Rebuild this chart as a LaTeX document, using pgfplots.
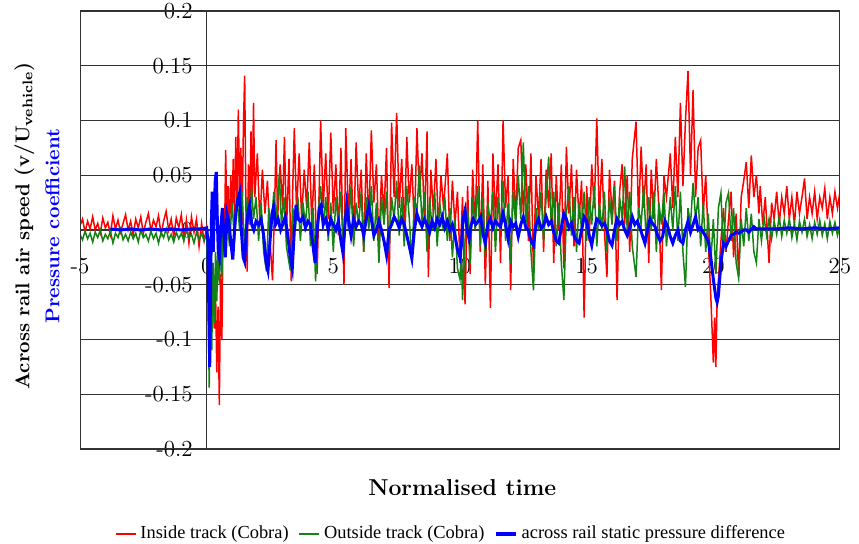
\documentclass[border=0pt]{standalone}
\usepackage{fontspec}
\usepackage{pgfplots}
\usepackage{pgfplotstable}
\pgfplotsset{compat=1.18}
\newfontfamily\legfont{Liberation Serif}
\definecolor{cred}{RGB}{255,0,0}
\definecolor{cgreen}{RGB}{20,130,20}
\definecolor{cblue}{RGB}{0,0,255}

\pgfplotstableread[row sep=\\]{
x y\\
-5.0 0.004\\ -4.9 0.010\\ -4.8 -0.002\\ -4.7 0.008\\ -4.6 0.001\\ -4.5 0.012\\ -4.4 0.000\\ -4.3 0.006\\ -4.2 -0.003\\ -4.1 0.011\\
-4.0 0.002\\ -3.9 0.007\\ -3.8 -0.004\\ -3.7 0.013\\ -3.6 0.001\\ -3.5 0.009\\ -3.4 -0.002\\ -3.3 0.006\\ -3.2 0.014\\ -3.1 0.000\\
-3.0 0.008\\ -2.9 -0.005\\ -2.8 0.010\\ -2.7 0.002\\ -2.6 0.012\\ -2.5 -0.003\\ -2.4 0.007\\ -2.3 0.015\\ -2.2 -0.001\\ -2.1 0.009\\
-2.0 0.003\\ -1.9 0.013\\ -1.8 -0.004\\ -1.7 0.008\\ -1.6 0.017\\ -1.5 0.000\\ -1.4 0.010\\ -1.3 -0.006\\ -1.2 0.011\\ -1.1 0.002\\
-1.0 0.014\\ -0.9 -0.008\\ -0.8 0.009\\ -0.7 -0.012\\ -0.6 0.012\\ -0.5 -0.002\\ -0.4 0.010\\ -0.3 -0.015\\ -0.2 0.006\\ -0.1 -0.010\\
0.00 0.002\\ 0.05 -0.020\\ 0.10 -0.060\\ 0.15 -0.020\\ 0.20 -0.075\\ 0.25 -0.030\\ 0.30 -0.090\\ 0.35 -0.055\\ 0.40 -0.130\\ 0.45 -0.070\\
0.50 -0.160\\ 0.55 -0.040\\ 0.60 -0.100\\ 0.65 0.010\\ 0.70 -0.020\\ 0.75 0.073\\ 0.80 0.005\\ 0.85 0.040\\ 0.90 -0.010\\ 0.95 0.050\\
1.00 0.015\\ 1.05 0.065\\ 1.10 0.010\\ 1.15 0.085\\ 1.20 0.020\\ 1.25 0.110\\ 1.30 0.030\\ 1.35 0.075\\ 1.40 0.005\\ 1.45 0.095\\
1.50 0.141\\ 1.55 0.020\\ 1.60 -0.038\\ 1.65 0.060\\ 1.70 0.010\\ 1.75 0.090\\ 1.80 0.025\\ 1.85 0.116\\ 1.90 0.030\\ 2.00 0.070\\
2.10 0.005\\ 2.20 0.055\\ 2.30 0.015\\ 2.40 0.045\\ 2.50 -0.010\\ 2.60 -0.046\\ 2.70 0.040\\ 2.74 0.082\\ 2.80 0.010\\ 2.90 0.060\\
3.00 0.020\\ 3.07 0.085\\ 3.15 0.000\\ 3.25 0.065\\ 3.34 -0.047\\ 3.40 0.040\\ 3.46 0.093\\ 3.55 0.015\\ 3.65 0.070\\ 3.75 0.010\\
3.85 0.055\\ 3.95 0.020\\ 4.05 0.080\\ 4.15 0.005\\ 4.25 0.060\\ 4.36 -0.040\\ 4.45 0.045\\ 4.50 0.100\\ 4.60 0.020\\ 4.70 0.070\\
4.80 0.010\\ 4.90 0.089\\ 5.00 0.015\\ 5.10 0.060\\ 5.20 -0.005\\ 5.30 0.075\\ 5.42 -0.050\\ 5.49 0.093\\ 5.60 0.010\\ 5.70 0.065\\
5.80 -0.010\\ 5.90 0.080\\ 6.00 0.020\\ 6.10 0.055\\ 6.20 -0.020\\ 6.30 0.070\\ 6.40 0.005\\ 6.50 0.091\\ 6.60 0.025\\ 6.70 0.060\\
6.80 -0.015\\ 6.90 0.050\\ 7.00 0.015\\ 7.10 0.075\\ 7.20 -0.053\\ 7.30 0.098\\ 7.40 0.030\\ 7.50 0.107\\ 7.60 0.020\\ 7.70 0.065\\
7.80 -0.005\\ 7.90 0.085\\ 8.00 0.025\\ 8.10 0.060\\ 8.20 0.000\\ 8.30 0.093\\ 8.40 0.030\\ 8.50 0.070\\ 8.60 0.010\\ 8.70 0.090\\
8.75 -0.043\\ 8.85 0.055\\ 8.95 0.015\\ 9.05 0.065\\ 9.15 0.000\\ 9.25 0.050\\ 9.35 0.020\\ 9.50 0.070\\ 9.60 -0.010\\ 9.70 0.045\\
9.80 0.005\\ 9.90 0.035\\ 10.00 -0.030\\ 10.10 0.030\\ 10.20 -0.068\\ 10.30 0.040\\ 10.40 -0.040\\ 10.50 0.055\\ 10.60 0.000\\ 10.70 0.100\\
10.80 -0.020\\ 10.90 0.060\\ 11.00 -0.050\\ 11.10 0.045\\ 11.20 -0.071\\ 11.30 0.070\\ 11.40 0.010\\ 11.50 0.060\\ 11.60 -0.030\\ 11.70 0.100\\
11.80 0.020\\ 11.90 0.050\\ 12.00 -0.055\\ 12.10 0.065\\ 12.20 0.010\\ 12.30 0.075\\ 12.40 0.082\\ 12.50 0.015\\ 12.60 0.060\\ 12.70 -0.010\\
12.80 0.070\\ 12.90 -0.040\\ 13.00 0.050\\ 13.10 0.010\\ 13.20 0.065\\ 13.30 -0.020\\ 13.40 0.055\\ 13.50 0.020\\ 13.60 0.070\\ 13.70 -0.030\\
13.80 0.050\\ 13.90 0.000\\ 14.00 0.060\\ 14.10 -0.035\\ 14.20 0.076\\ 14.30 0.015\\ 14.40 0.060\\ 14.50 -0.015\\ 14.60 0.055\\ 14.70 0.010\\
14.80 0.045\\ 14.90 -0.080\\ 15.00 0.040\\ 15.10 -0.010\\ 15.20 0.060\\ 15.30 0.020\\ 15.40 0.102\\ 15.50 0.010\\ 15.60 0.065\\ 15.70 0.000\\
15.80 -0.043\\ 15.90 0.055\\ 16.00 0.015\\ 16.10 0.045\\ 16.20 -0.064\\ 16.30 0.035\\ 16.40 0.060\\ 16.50 0.005\\ 16.60 0.050\\ 16.70 -0.020\\
16.80 0.065\\ 16.95 0.099\\ 17.05 0.010\\ 17.15 0.076\\ 17.25 0.020\\ 17.35 0.060\\ 17.45 -0.030\\ 17.55 0.055\\ 17.65 0.010\\ 17.75 0.065\\
17.85 0.020\\ 17.95 -0.055\\ 18.05 0.050\\ 18.15 0.030\\ 18.30 0.070\\ 18.40 0.020\\ 18.50 0.085\\ 18.60 0.030\\ 18.70 0.116\\ 18.80 0.040\\
18.90 0.100\\ 19.00 0.145\\ 19.10 0.050\\ 19.20 0.128\\ 19.30 0.030\\ 19.40 0.075\\ 19.50 0.082\\ 19.60 0.015\\ 19.70 0.050\\ 19.80 -0.010\\
19.90 -0.060\\ 20.00 -0.121\\ 20.05 -0.080\\ 20.10 -0.125\\ 20.15 -0.060\\ 20.20 -0.046\\ 20.30 -0.010\\ 20.40 0.020\\ 20.50 -0.020\\ 20.60 0.010\\
20.70 0.035\\ 20.80 -0.025\\ 20.90 0.015\\ 21.00 -0.043\\ 21.10 0.030\\ 21.20 0.045\\ 21.30 0.062\\ 21.40 0.020\\ 21.50 0.068\\ 21.60 0.030\\
21.70 0.050\\ 21.80 0.015\\ 21.85 0.040\\ 21.95 0.005\\ 22.05 0.030\\ 22.20 -0.030\\ 22.30 0.025\\ 22.40 0.010\\ 22.50 0.035\\ 22.60 0.005\\
22.70 0.030\\ 22.80 0.015\\ 22.90 0.040\\ 23.00 0.010\\ 23.10 0.030\\ 23.20 0.005\\ 23.30 0.035\\ 23.40 0.015\\ 23.50 0.030\\ 23.60 0.047\\
23.70 0.010\\ 23.80 0.030\\ 23.90 0.015\\ 24.00 0.035\\ 24.10 0.010\\ 24.20 0.030\\ 24.30 0.020\\ 24.40 0.038\\ 24.50 0.010\\ 24.60 0.030\\
24.70 0.015\\ 24.80 0.035\\ 24.90 0.020\\ 25.00 0.035\\
}\redtab

\pgfplotstableread[row sep=\\]{
x y\\
-5.0 -0.004\\ -4.9 -0.009\\ -4.8 -0.001\\ -4.7 -0.008\\ -4.6 -0.003\\ -4.5 -0.011\\ -4.4 -0.002\\ -4.3 -0.007\\ -4.2 0.000\\ -4.1 -0.010\\
-4.0 -0.004\\ -3.9 -0.008\\ -3.8 -0.001\\ -3.7 -0.012\\ -3.6 -0.003\\ -3.5 -0.007\\ -3.4 0.001\\ -3.3 -0.009\\ -3.2 -0.004\\ -3.1 -0.010\\
-3.0 -0.002\\ -2.9 -0.008\\ -2.8 -0.003\\ -2.7 -0.011\\ -2.6 0.000\\ -2.5 -0.007\\ -2.4 -0.004\\ -2.3 -0.010\\ -2.2 -0.001\\ -2.1 -0.008\\
-2.0 -0.003\\ -1.9 -0.012\\ -1.8 -0.002\\ -1.7 -0.007\\ -1.6 0.001\\ -1.5 -0.009\\ -1.4 -0.004\\ -1.3 -0.011\\ -1.2 -0.002\\ -1.1 -0.008\\
-1.0 -0.003\\ -0.9 -0.010\\ -0.8 0.000\\ -0.7 -0.007\\ -0.6 -0.004\\ -0.5 -0.012\\ -0.4 -0.002\\ -0.3 -0.009\\ -0.2 -0.003\\ -0.1 -0.010\\
0.00 -0.003\\ 0.05 -0.040\\ 0.10 -0.144\\ 0.15 -0.060\\ 0.20 -0.110\\ 0.25 -0.030\\ 0.30 -0.085\\ 0.35 -0.020\\ 0.40 -0.065\\ 0.45 -0.010\\
0.50 -0.050\\ 0.55 0.005\\ 0.60 -0.043\\ 0.65 0.010\\ 0.70 -0.025\\ 0.80 0.020\\ 0.90 -0.015\\ 1.00 0.025\\ 1.10 -0.010\\ 1.20 0.030\\
1.30 0.000\\ 1.40 0.035\\ 1.50 -0.020\\ 1.60 0.030\\ 1.70 0.005\\ 1.77 0.039\\ 1.85 0.010\\ 1.95 0.030\\ 2.05 -0.010\\ 2.15 0.025\\
2.25 -0.020\\ 2.36 -0.038\\ 2.45 0.020\\ 2.55 0.000\\ 2.65 0.035\\ 2.75 0.010\\ 2.87 0.052\\ 2.95 0.005\\ 3.05 0.030\\ 3.15 -0.015\\
3.30 -0.037\\ 3.40 0.020\\ 3.50 0.000\\ 3.60 0.030\\ 3.70 -0.010\\ 3.80 0.025\\ 3.90 0.005\\ 4.00 0.035\\ 4.10 -0.015\\ 4.20 0.020\\
4.30 -0.047\\ 4.40 0.015\\ 4.50 0.040\\ 4.60 0.000\\ 4.70 0.030\\ 4.80 -0.010\\ 4.90 0.025\\ 5.00 -0.020\\ 5.10 0.030\\ 5.20 0.005\\
5.30 0.035\\ 5.40 -0.025\\ 5.50 0.020\\ 5.60 0.000\\ 5.70 0.040\\ 5.80 -0.015\\ 5.90 0.025\\ 6.00 0.005\\ 6.10 0.035\\ 6.20 -0.020\\
6.30 0.030\\ 6.40 0.000\\ 6.50 0.040\\ 6.60 -0.010\\ 6.70 0.025\\ 6.80 -0.030\\ 6.90 0.030\\ 7.00 0.005\\ 7.10 0.035\\ 7.20 -0.020\\
7.30 0.030\\ 7.40 0.010\\ 7.50 0.045\\ 7.60 -0.005\\ 7.70 0.030\\ 7.80 -0.015\\ 7.90 0.040\\ 8.00 0.010\\ 8.10 -0.030\\ 8.20 0.030\\
8.30 0.015\\ 8.40 0.059\\ 8.50 0.005\\ 8.60 0.035\\ 8.70 -0.020\\ 8.80 0.030\\ 8.90 0.000\\ 9.00 0.035\\ 9.10 -0.015\\ 9.20 0.025\\
9.30 0.005\\ 9.40 0.030\\ 9.50 -0.010\\ 9.60 0.020\\ 9.70 -0.025\\ 9.80 0.010\\ 9.90 -0.035\\ 10.00 -0.045\\ 10.05 -0.020\\ 10.10 -0.064\\
10.20 -0.010\\ 10.30 0.020\\ 10.40 -0.030\\ 10.50 0.030\\ 10.60 0.000\\ 10.70 0.040\\ 10.80 -0.015\\ 10.90 0.030\\ 11.00 -0.025\\ 11.10 0.025\\
11.20 0.005\\ 11.30 0.035\\ 11.40 -0.020\\ 11.50 0.030\\ 11.60 0.000\\ 11.70 0.045\\ 11.80 -0.010\\ 11.90 0.025\\ 12.00 -0.030\\ 12.10 0.035\\
12.20 0.005\\ 12.30 0.050\\ 12.40 0.010\\ 12.50 0.080\\ 12.60 0.005\\ 12.70 0.040\\ 12.80 -0.020\\ 12.90 -0.055\\ 13.00 0.020\\ 13.10 0.000\\
13.20 0.035\\ 13.30 -0.010\\ 13.40 0.030\\ 13.50 0.067\\ 13.60 0.005\\ 13.70 0.035\\ 13.80 -0.015\\ 13.90 0.025\\ 14.00 -0.030\\ 14.10 -0.064\\
14.20 0.015\\ 14.30 0.040\\ 14.40 -0.005\\ 14.50 0.030\\ 14.60 -0.020\\ 14.70 0.025\\ 14.80 0.000\\ 14.90 0.035\\ 15.00 -0.010\\ 15.10 0.030\\
15.20 0.005\\ 15.30 0.040\\ 15.40 -0.015\\ 15.50 0.025\\ 15.60 0.000\\ 15.70 0.035\\ 15.80 -0.020\\ 15.90 0.030\\ 16.00 0.005\\ 16.10 0.040\\
16.20 -0.010\\ 16.30 0.030\\ 16.40 0.010\\ 16.50 0.058\\ 16.60 0.000\\ 16.70 0.035\\ 16.80 -0.015\\ 16.95 -0.043\\ 17.05 0.020\\ 17.15 0.005\\
17.25 0.040\\ 17.35 -0.010\\ 17.45 0.030\\ 17.55 0.000\\ 17.65 0.035\\ 17.75 -0.020\\ 17.85 0.025\\ 17.95 0.005\\ 18.05 0.035\\ 18.15 -0.015\\
18.30 0.030\\ 18.40 0.000\\ 18.50 0.040\\ 18.60 -0.010\\ 18.70 0.035\\ 18.80 -0.020\\ 18.90 -0.052\\ 19.00 0.020\\ 19.10 0.005\\ 19.20 0.043\\
19.30 0.010\\ 19.40 0.030\\ 19.50 -0.015\\ 19.60 0.025\\ 19.70 -0.020\\ 19.80 0.015\\ 19.90 -0.030\\ 20.00 0.010\\ 20.10 -0.040\\ 20.20 0.020\\
20.30 0.034\\ 20.40 -0.020\\ 20.50 0.025\\ 20.60 0.034\\ 20.70 -0.010\\ 20.80 0.020\\ 20.90 -0.030\\ 21.00 -0.044\\ 21.10 0.010\\ 21.20 -0.015\\
21.30 0.020\\ 21.40 -0.010\\ 21.50 0.015\\ 21.60 -0.020\\ 21.70 -0.030\\ 21.80 0.010\\ 21.90 -0.010\\ 22.00 0.012\\ 22.10 -0.005\\ 22.20 0.010\\
22.30 -0.008\\ 22.40 0.008\\ 22.50 -0.004\\ 22.60 0.012\\ 22.70 -0.006\\ 22.80 0.009\\ 22.90 -0.003\\ 23.00 0.010\\ 23.10 -0.007\\ 23.20 0.006\\
23.30 -0.009\\ 23.40 0.008\\ 23.50 -0.002\\ 23.60 0.010\\ 23.70 -0.006\\ 23.80 0.005\\ 23.90 -0.008\\ 24.00 0.007\\ 24.10 -0.004\\ 24.20 0.009\\
24.30 -0.005\\ 24.40 0.006\\ 24.50 -0.008\\ 24.60 0.008\\ 24.70 -0.003\\ 24.80 0.007\\ 24.90 -0.005\\ 25.00 0.004\\
}\greentab

\pgfplotstableread[row sep=\\]{
x y\\
-3.8 0.001\\ -3.4 0.000\\ -3.0 0.001\\ -2.6 0.000\\ -2.2 0.001\\ -1.8 0.000\\ -1.4 0.001\\ -1.0 0.000\\ -0.6 0.001\\ -0.2 0.001\\
0.00 0.002\\ 0.05 -0.010\\ 0.09 -0.080\\ 0.12 -0.125\\ 0.15 -0.060\\ 0.19 0.010\\ 0.22 0.035\\ 0.26 -0.020\\ 0.30 0.020\\ 0.34 0.045\\
0.38 0.053\\ 0.42 0.010\\ 0.46 -0.020\\ 0.50 -0.025\\ 0.55 0.000\\ 0.62 0.020\\ 0.68 -0.005\\ 0.74 -0.025\\ 0.80 0.015\\ 0.87 0.008\\
0.95 -0.010\\ 1.03 -0.027\\ 1.10 0.000\\ 1.17 0.020\\ 1.24 0.029\\ 1.30 0.034\\ 1.37 0.000\\ 1.44 -0.025\\ 1.50 -0.029\\ 1.57 0.000\\
1.64 0.018\\ 1.70 0.023\\ 1.78 0.005\\ 1.86 0.000\\ 1.95 0.008\\ 2.05 0.005\\ 2.15 0.010\\ 2.25 -0.005\\ 2.35 -0.030\\ 2.42 -0.037\\
2.50 -0.010\\ 2.58 0.015\\ 2.64 0.021\\ 2.72 0.005\\ 2.82 0.010\\ 2.92 0.000\\ 3.00 0.005\\ 3.10 0.012\\ 3.20 -0.005\\ 3.30 -0.025\\
3.38 -0.035\\ 3.46 0.000\\ 3.53 0.023\\ 3.60 0.010\\ 3.70 0.008\\ 3.80 0.012\\ 3.90 0.002\\ 4.00 0.008\\ 4.10 0.005\\ 4.20 -0.015\\
4.28 -0.030\\ 4.36 0.000\\ 4.45 0.020\\ 4.52 0.023\\ 4.60 0.005\\ 4.70 0.010\\ 4.80 0.000\\ 4.90 0.010\\ 5.00 0.005\\ 5.10 0.000\\
5.20 0.008\\ 5.30 -0.010\\ 5.38 -0.021\\ 5.46 0.005\\ 5.53 0.023\\ 5.60 0.010\\ 5.70 -0.005\\ 5.80 0.010\\ 5.90 0.003\\ 6.00 0.008\\
6.10 0.005\\ 6.20 -0.005\\ 6.30 0.010\\ 6.40 0.022\\ 6.50 0.010\\ 6.60 -0.005\\ 6.70 0.000\\ 6.80 0.008\\ 6.90 0.000\\ 7.00 -0.010\\
7.10 -0.023\\ 7.20 0.000\\ 7.30 0.005\\ 7.40 0.012\\ 7.50 0.008\\ 7.60 0.002\\ 7.70 0.010\\ 7.80 0.005\\ 7.90 -0.005\\ 8.00 -0.015\\
8.10 -0.026\\ 8.20 0.000\\ 8.30 0.015\\ 8.40 0.008\\ 8.50 0.003\\ 8.60 0.010\\ 8.70 0.005\\ 8.80 -0.002\\ 8.90 0.008\\ 9.00 0.002\\
9.10 0.010\\ 9.20 0.005\\ 9.30 0.012\\ 9.40 0.002\\ 9.50 0.008\\ 9.60 0.000\\ 9.70 0.005\\ 9.80 -0.005\\ 9.90 -0.018\\ 10.00 -0.025\\
10.05 -0.015\\ 10.12 0.010\\ 10.20 0.018\\ 10.28 0.000\\ 10.36 -0.008\\ 10.44 0.005\\ 10.52 0.010\\ 10.62 0.005\\ 10.72 0.008\\ 10.82 0.012\\
10.92 -0.005\\ 11.00 -0.012\\ 11.10 0.005\\ 11.20 0.010\\ 11.30 0.002\\ 11.40 0.008\\ 11.50 0.005\\ 11.60 0.003\\ 11.70 0.015\\ 11.80 0.005\\
11.90 -0.008\\ 12.00 0.008\\ 12.10 0.003\\ 12.20 0.006\\ 12.30 -0.006\\ 12.40 0.005\\ 12.50 0.012\\ 12.60 0.002\\ 12.70 0.000\\ 12.80 -0.010\\
12.90 -0.014\\ 13.00 0.005\\ 13.10 0.010\\ 13.20 0.002\\ 13.30 0.004\\ 13.40 0.012\\ 13.50 0.005\\ 13.60 0.008\\ 13.70 -0.002\\ 13.80 -0.010\\
13.90 -0.012\\ 14.00 0.002\\ 14.10 0.015\\ 14.20 0.010\\ 14.30 0.002\\ 14.40 0.006\\ 14.50 -0.005\\ 14.60 -0.010\\ 14.70 -0.012\\ 14.80 0.000\\
14.90 0.012\\ 15.00 0.008\\ 15.10 -0.005\\ 15.20 -0.014\\ 15.30 0.000\\ 15.40 0.010\\ 15.50 0.008\\ 15.60 0.004\\ 15.70 0.006\\ 15.80 0.000\\
15.90 -0.010\\ 16.00 -0.014\\ 16.10 0.000\\ 16.20 0.010\\ 16.30 0.005\\ 16.40 0.008\\ 16.50 0.000\\ 16.60 -0.005\\ 16.70 0.002\\ 16.80 0.012\\
16.90 0.005\\ 17.00 0.008\\ 17.10 0.002\\ 17.20 -0.005\\ 17.30 -0.012\\ 17.40 0.000\\ 17.50 0.010\\ 17.60 0.006\\ 17.70 0.003\\ 17.80 -0.005\\
17.90 -0.010\\ 18.00 -0.006\\ 18.10 0.008\\ 18.20 0.003\\ 18.30 -0.006\\ 18.40 -0.012\\ 18.50 -0.005\\ 18.60 0.000\\ 18.70 -0.010\\ 18.80 -0.012\\
18.90 0.000\\ 19.00 0.008\\ 19.10 -0.002\\ 19.20 0.005\\ 19.30 0.012\\ 19.40 0.000\\ 19.50 0.002\\ 19.60 -0.002\\ 19.70 -0.006\\ 19.80 -0.010\\
19.90 -0.025\\ 20.00 -0.045\\ 20.10 -0.062\\ 20.15 -0.066\\ 20.20 -0.060\\ 20.30 -0.030\\ 20.40 -0.012\\ 20.50 -0.015\\ 20.60 -0.010\\ 20.70 -0.005\\
20.80 -0.004\\ 20.90 -0.002\\ 21.00 -0.003\\ 21.20 0.000\\ 21.30 0.000\\ 21.40 -0.002\\ 21.60 0.003\\ 21.70 0.001\\ 22.00 0.001\\ 22.50 0.001\\
23.00 0.002\\ 23.50 0.001\\ 24.00 0.002\\ 24.50 0.001\\ 25.00 0.002\\
}\bluetab

\begin{document}
\begin{tikzpicture}
\useasboundingbox (-40pt,-47.5pt) rectangle (389.5pt,224.5pt);
\begin{axis}[
  at={(0,0)}, anchor=south west,
  scale only axis, width=380pt, height=219pt,
  xmin=-5, xmax=25, ymin=-0.2, ymax=0.2,
  enlargelimits=false,
  axis lines=middle,
  axis line style={-, black!80, line width=0.6pt},
  hide obscured x ticks=false, hide obscured y ticks=false,
  scaled x ticks=false, scaled y ticks=false,
  xtick={-5,0,5,10,15,20,25},
  ytick={-0.2,-0.15,-0.1,-0.05,0,0.05,0.1,0.15,0.2},
  yticklabels={-0.2,-0.15,-0.1,-0.05,0,0.05,0.1,0.15,0.2},
  xticklabels={-5,0,5,10,15,20,25},
  major tick length=0pt,
  ymajorgrids,
  major grid style={black!80, line width=0.6pt},
  tick label style={font=\fontsize{11.5}{13}\selectfont},
  yticklabel style={anchor=east, xshift=-3.5pt},
  xticklabel style={anchor=north, yshift=-10.5pt},
  every axis x label/.style={at={(rel axis cs:0.503,-0.087)}, anchor=center, font=\fontsize{11.5}{14}\selectfont\bfseries},
  every axis y label/.style={at={(rel axis cs:-0.0566,0.509)}, anchor=center, rotate=90, align=center, font=\fontsize{10}{12}\selectfont\bfseries},
  xlabel={Normalised time},
  ylabel={Across rail air speed (v/U\textsubscript{vehicle})\\[3pt]\textcolor{cblue}{Pressure coefficient}},
  legend columns=3,
  legend style={at={(rel axis cs:0.4895,-0.194)}, anchor=center, draw=none, fill=none,
    font=\legfont\fontsize{9.2}{11}\selectfont,
    /tikz/every even column/.append style={column sep=3pt}},
  legend image code/.code={\draw[#1] (0pt,0pt) -- (10pt,0pt);},
]
\addlegendimage{cred, line width=0.7pt}
\addlegendentry{Inside track (Cobra)}
\addlegendimage{cgreen, line width=0.7pt}
\addlegendentry{Outside track (Cobra)}
\addlegendimage{cblue, line width=1.6pt}
\addlegendentry{across rail static pressure difference}
\addplot[cred, line width=0.75pt, forget plot] table {\redtab};
\addplot[cgreen, line width=0.75pt, forget plot] table {\greentab};
\addplot[cblue, line width=1.5pt, forget plot] table {\bluetab};
\draw[black!80, line width=0.6pt] (rel axis cs:0,0) rectangle (rel axis cs:1,1);
\end{axis}
\end{tikzpicture}
\end{document}
